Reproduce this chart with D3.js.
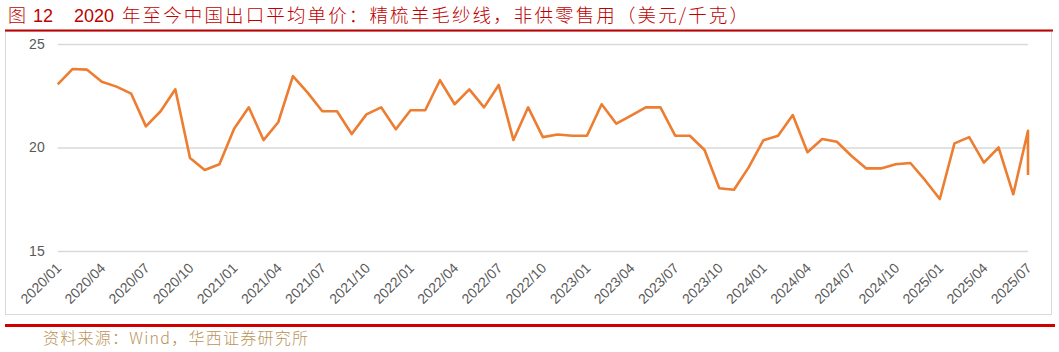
<!DOCTYPE html>
<html>
<head>
<meta charset="utf-8">
<script src="https://cdn.jsdelivr.net/npm/d3@7"></script>
<style>
  body { margin: 0; background: #fff; }
  svg { display: block; }
</style>
</head>
<body>
<div id="chart"></div>
<script>
const width = 1059;
const height = 352;

// monthly export unit price, USD/kg (last month has two readings)
const months = [
  "2020/01","2020/02","2020/03","2020/04","2020/05","2020/06","2020/07","2020/08","2020/09","2020/10","2020/11","2020/12",
  "2021/01","2021/02","2021/03","2021/04","2021/05","2021/06","2021/07","2021/08","2021/09","2021/10","2021/11","2021/12",
  "2022/01","2022/02","2022/03","2022/04","2022/05","2022/06","2022/07","2022/08","2022/09","2022/10","2022/11","2022/12",
  "2023/01","2023/02","2023/03","2023/04","2023/05","2023/06","2023/07","2023/08","2023/09","2023/10","2023/11","2023/12",
  "2024/01","2024/02","2024/03","2024/04","2024/05","2024/06","2024/07","2024/08","2024/09","2024/10","2024/11","2024/12",
  "2025/01","2025/02","2025/03","2025/04","2025/05","2025/06","2025/07"
];
const pointMonths = months.concat(["2025/07"]);
const prices = [
  23.05, 23.79, 23.76, 23.18, 22.94, 22.60, 21.02, 21.75, 22.81, 19.49, 18.91, 19.19,
  20.91, 21.94, 20.36, 21.22, 23.45, 22.65, 21.75, 21.75, 20.65, 21.60, 21.94, 20.88,
  21.80, 21.80, 23.25, 22.09, 22.81, 21.94, 23.02, 20.36, 21.94, 20.50, 20.63, 20.57,
  20.57, 22.09, 21.15, 21.54, 21.94, 21.94, 20.57, 20.57, 19.88, 18.03, 17.96, 19.04,
  20.35, 20.57, 21.57, 19.77, 20.41, 20.28, 19.59, 18.99, 18.99, 19.19, 19.25, 18.42,
  17.51, 20.20, 20.50, 19.27, 20.00, 17.74, 20.81, 18.67
];
const yTicks = [15, 20, 25];
const xTickLabels = months.filter((d, i) => i % 3 === 0);

const titleNo = "图";
const titleNum = "12";
const titleYear = "2020";
const titleText = "年至今中国出口平均单价：精梳羊毛纱线，非供零售用（美元/千克）";
const sourceText = "资料来源：Wind，华西证券研究所";

const margin = { top: 44, left: 57.7, right: 31, bottom: 101 };

const svg = d3.select("#chart").append("svg")
    .attr("width", width)
    .attr("height", height);

const x = d3.scalePoint()
    .domain(months)
    .range([margin.left, width - margin.right]);

const y = d3.scaleLinear()
    .domain([15, 25])
    .range([height - margin.bottom, margin.top]);

const cjk = "'Noto Sans CJK SC', 'Noto Sans', sans-serif";
const latin = "'Liberation Sans', Arial, sans-serif";

// frame
svg.append("rect")
    .attr("x", 5.5)
    .attr("y", 31.5)
    .attr("width", 1046)
    .attr("height", 283)
    .attr("fill", "none")
    .attr("stroke", "#d9d9d9")
    .attr("stroke-width", 1);

// title
svg.append("text").attr("x", 8).attr("y", 22)
    .attr("font-family", cjk).attr("font-size", 18).attr("font-weight", 300).attr("fill", "#c00000")
    .text(titleNo);
svg.append("text").attr("x", 33).attr("y", 22)
    .attr("font-family", latin).attr("font-size", 18).attr("fill", "#c00000")
    .text(titleNum);
svg.append("text").attr("x", 74).attr("y", 22)
    .attr("font-family", latin).attr("font-size", 18).attr("fill", "#c00000")
    .text(titleYear);
svg.append("text").attr("x", 122).attr("y", 22)
    .attr("font-family", cjk).attr("font-size", 18.5).attr("font-weight", 300).attr("fill", "#c00000")
    .attr("textLength", 626).attr("lengthAdjust", "spacing")
    .text(titleText);

svg.append("line")
    .attr("x1", 5).attr("x2", 1053)
    .attr("y1", 30.5).attr("y2", 30.5)
    .attr("stroke", "#c00000").attr("stroke-width", 2);

// grid
const yAxis = svg.append("g")
    .attr("transform", `translate(${margin.left},0)`)
    .call(d3.axisLeft(y).tickValues(yTicks).tickSize(-(width - margin.left - margin.right)).tickPadding(13));
yAxis.select(".domain").remove();
yAxis.selectAll(".tick line").attr("stroke", "#d9d9d9").attr("stroke-width", 1.5);
yAxis.selectAll(".tick text")
    .attr("font-family", latin).attr("font-size", 14).attr("fill", "#595959");

// x labels
const xAxis = svg.append("g")
    .attr("transform", `translate(0,${height - margin.bottom})`)
    .call(d3.axisBottom(x).tickValues(xTickLabels).tickSize(0).tickPadding(0));
xAxis.select(".domain").remove();
xAxis.selectAll(".tick text")
    .attr("font-family", latin).attr("font-size", 14).attr("fill", "#595959")
    .attr("text-anchor", "end")
    .attr("dy", 0)
    .attr("transform", "translate(4,18) rotate(-45)");

// line
const data = pointMonths.map((m, i) => ({ month: m, value: prices[i] }));
const line = d3.line()
    .x(d => x(d.month))
    .y(d => y(d.value));

svg.append("path")
    .datum(data)
    .attr("d", line)
    .attr("fill", "none")
    .attr("stroke", "#ed7d31")
    .attr("stroke-width", 2.6)
    .attr("stroke-linejoin", "round");

// footer
svg.append("line")
    .attr("x1", 5).attr("x2", 1055)
    .attr("y1", 325.5).attr("y2", 325.5)
    .attr("stroke", "#d00000").attr("stroke-width", 3);

svg.append("text").attr("x", 43).attr("y", 344)
    .attr("font-family", cjk).attr("font-size", 16).attr("font-weight", 300).attr("fill", "#b8955a")
    .attr("textLength", 265).attr("lengthAdjust", "spacing")
    .text(sourceText);
</script>
</body>
</html>
